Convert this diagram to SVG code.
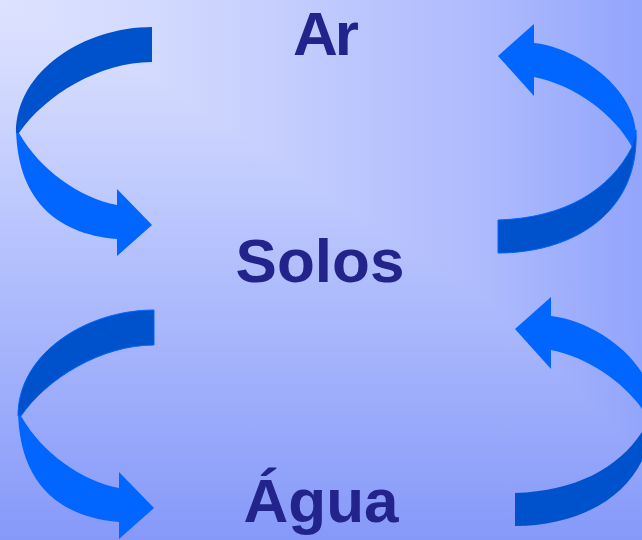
<svg xmlns="http://www.w3.org/2000/svg" width="642" height="540" viewBox="0 0 642 540">
  <defs>
    <!-- corner-style backdrop: horizontal and vertical ramps, the darker one wins -->
    <linearGradient id="bg-h" gradientUnits="userSpaceOnUse" x1="0" y1="0" x2="642" y2="0">
      <stop offset="0" stop-color="#dde2ff"/>
      <stop offset="0.25" stop-color="#d2d9fe"/>
      <stop offset="0.76" stop-color="#adbafd"/>
      <stop offset="1" stop-color="#93a5fc"/>
    </linearGradient>
    <linearGradient id="bg-v" gradientUnits="userSpaceOnUse" x1="0" y1="0" x2="0" y2="540">
      <stop offset="0" stop-color="#dde2ff"/>
      <stop offset="0.11" stop-color="#d6dcfe"/>
      <stop offset="0.43" stop-color="#b8c4fd"/>
      <stop offset="1" stop-color="#8699f9"/>
    </linearGradient>
    <style>
      .label { font-family: "Liberation Sans", Arial, sans-serif; font-weight: bold; font-size: 62px; fill: #23238c; }
      .mid { text-anchor: middle; }
      .front { fill: #0066ff; }
      .back { fill: #0052cc; }
      .edged { stroke: #0066ff; stroke-width: 1; }
    </style>
  </defs>

  <g style="isolation:isolate">
    <rect width="642" height="540" fill="url(#bg-h)"/>
    <rect width="642" height="540" fill="url(#bg-v)" style="mix-blend-mode:darken"/>
  </g>

  <!-- curved ribbon arrows -->
  <g id="connectors">
    <!-- left, top: Ar to Solos -->
    <g id="arrow-ar-solos">
      <path class="front" d="M16,125 C16,198 55,234 117,239 L117,256 L152,225 L117,189 L117,205 C80,198 40,170 19,133 Z"/>
      <path class="back" d="M152,27 L152,62 C100,62 45,95 19,133 L16,133 C16,70 85,27 152,27 Z"/>
    </g>
    <!-- right, top: Solos to Ar -->
    <g id="arrow-solos-ar">
      <path class="front" d="M534,43 C580,48 636,90 636,135 L632,147 C615,115 575,85 534,77 L534,96 L498,56 L534,24 Z"/>
      <path class="back edged" d="M636,130 C640,215 570,253 498,253 L498,220 C565,218 610,190 632,147 Z"/>
    </g>
    <!-- left, bottom: Solos to Água -->
    <g id="arrow-solos-agua" transform="translate(2 283)">
      <path class="front" d="M16,125 C16,198 55,234 117,239 L117,256 L152,225 L117,189 L117,205 C80,198 40,170 19,133 Z"/>
      <path class="back edged" d="M152,27 L152,62 C100,62 45,95 19,133 L16,133 C16,70 85,27 152,27 Z"/>
    </g>
    <!-- right, bottom: Água to Solos -->
    <g id="arrow-agua-solos" transform="translate(17 273)">
      <path class="front" d="M534,43 C580,48 636,90 636,135 L632,147 C615,115 575,85 534,77 L534,96 L498,56 L534,24 Z"/>
      <path class="back" d="M636,130 C640,215 570,253 498,253 L498,220 C565,218 610,190 632,147 Z"/>
    </g>
  </g>

  <g id="ar"><text class="label" x="293" y="55" letter-spacing="-3">Ar</text></g>
  <g id="solos"><text class="label mid" x="320" y="282">Solos</text></g>
  <g id="agua"><text class="label mid" x="321" y="522">Água</text></g>
</svg>
